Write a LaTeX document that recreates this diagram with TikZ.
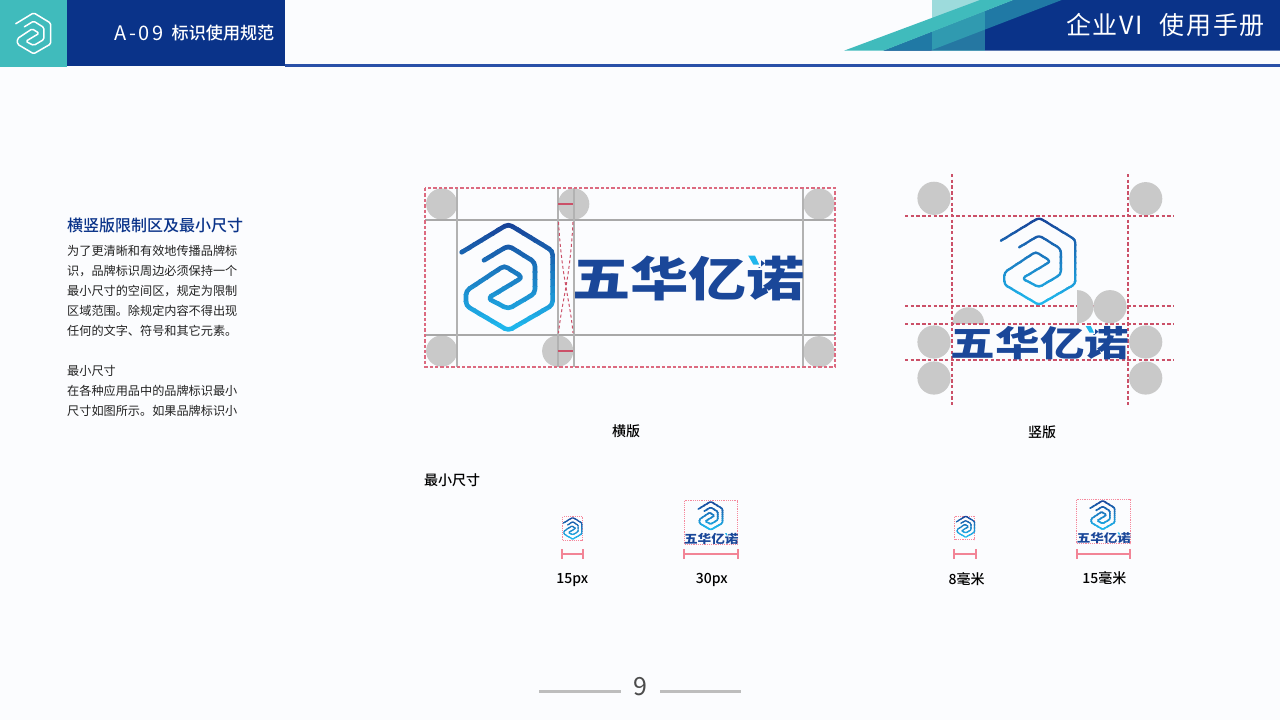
\documentclass[tikz,border=0pt]{standalone}
\usepackage{fontspec}
\setmainfont{Noto Sans CJK SC}
\newfontfamily\logofont{Noto Sans CJK SC}[UprightFont=* Black]
\newfontfamily\medfont{Noto Sans CJK SC}[UprightFont=* Medium]
\newfontfamily\spacedfont{Noto Sans CJK SC}[LetterSpace=7]
\newfontfamily\widefont{Noto Sans CJK SC}[LetterSpace=14]
\definecolor{pagebg}{HTML}{FBFCFE}
\definecolor{navy}{HTML}{0A3389}
\definecolor{rulebl}{HTML}{2A50A8}
\definecolor{teal}{HTML}{40BBBC}
\definecolor{deepteal}{HTML}{2079A5}
\definecolor{logotop}{HTML}{174298}
\definecolor{logobot}{HTML}{1FB6EC}
\definecolor{logoword}{HTML}{1A4799}
\definecolor{zoneg}{HTML}{C9C9C9}
\definecolor{lineg}{HTML}{A8A8A8}
\definecolor{lineh}{HTML}{B2B2B2}
\definecolor{pageline}{HTML}{BDBDBD}
\definecolor{dashr}{HTML}{DC6A80}
\definecolor{barred}{HTML}{CB5068}
\definecolor{dimred}{HTML}{F28496}
\definecolor{boxred}{HTML}{F6889C}
\definecolor{bodyt}{HTML}{222222}
\newcommand\hexpath{(-140,-75) -- (0,-160) -- (133,-79) -- (133,83) -- (0,160) -- (-127,85) -- (-127,41) -- (-12,-35) -- (43,0) -- (-62,63) -- (0,95) -- (80,48) -- (80,-45) -- (0,-95) -- (-73,-51)}
% x, y, scale, line width
\newcommand\logomark[4]{%
  \begin{scope}[shift={(#1,#2)},x=#3pt,y=-#3pt]
    \foreach \i in {0,...,15}{%
      \pgfmathsetmacro\p{max(0,100-\i*100/14)}%
      \colorlet{bandc}{logotop!\p!logobot}%
      \begin{scope}
        \clip (-200,{-170+\i*22}) rectangle (200,{-170+(\i+1)*22+1});
        \draw[color=bandc,line width=#4pt,line join=round,line cap=round,rounded corners=12*#3pt] \hexpath;
      \end{scope}
    }%
  \end{scope}}
% left, top, width, height, name
\newcommand\logoword[5]{%
  \node[inner sep=0pt,anchor=north west,text=logoword] (#5) at (#1,#2) {\resizebox*{#3pt}{#4pt}{\logofont 五华亿诺}};
  \fill[pagebg] ({#1+0.745*#3},{#2-0.03*#4}) rectangle ({#1+0.81*#3},{#2+0.245*#4});
  \fill[logobot] ({#1+0.756*#3},{#2}) -- ({#1+0.785*#3},{#2}) -- ({#1+0.803*#3},{#2+0.2*#4}) -- ({#1+0.778*#3},{#2+0.2*#4}) -- cycle;}
\newcommand\dimbar[3]{%
  \draw[dimline] (#1,#3) -- (#2,#3);
  \draw[dimline] (#1,{#3-5}) -- (#1,{#3+5});
  \draw[dimline] (#2,{#3-5}) -- (#2,{#3+5});}
\tikzset{
  zone/.style={fill=zoneg,draw=none},
  guide/.style={draw=lineg,line width=2pt},
  guidev/.style={draw=lineh,line width=2pt},
  dashg/.style={draw=dashr,line width=2pt,dash pattern=on 3.4pt off 2pt},
  dashv/.style={draw=barred,line width=2pt,dash pattern=on 3.4pt off 2.3pt},
  crossg/.style={draw=barred,line width=1pt,dash pattern=on 3pt off 2.5pt},
  dimbox/.style={draw=boxred,line width=1pt,dash pattern=on 1.2pt off 1pt},
  dimline/.style={draw=dimred,line width=2pt},
  small/.style={font=\medfont\fontsize{14}{16}\selectfont,text=black,inner sep=0pt},
  bodyline/.style={anchor=west,inner sep=0pt,text=bodyt,font=\fontsize{12.15}{14}\selectfont}
}
\begin{document}
\begin{tikzpicture}[x=1pt,y=-1pt]
\useasboundingbox (0,0) rectangle (1280,720);
\fill[pagebg] (0,0) rectangle (1280,720);
% header left
\fill[rulebl] (285,64) rectangle (1280,67);
\fill[teal] (0,0) rectangle (67,67);
\fill[navy] (67,0) rectangle (285,66);
\begin{scope}[shift={(33.7,33.3)},x=0.128pt,y=-0.128pt]
  \draw[white,line width=1.5pt,line join=round,line cap=round,rounded corners=1.5pt] \hexpath;
\end{scope}
\node[anchor=west,inner sep=0pt,text=white,font=\widefont\fontsize{20}{22}\selectfont] (code) at (114,33) {A-09};
\node[anchor=west,inner sep=0pt,text=white,font=\medfont\fontsize{17.1}{20}\selectfont] (hdr) at (171.5,33) {标识使用规范};
% header right
\fill[navy] (883.3,50.7) -- (1013.3,0) -- (1280,0) -- (1280,50.7) -- cycle;
\fill[deepteal] (883.3,50.7) -- (1013.3,0) -- (1061.7,0) -- (930,50.7) -- cycle;
\fill[teal] (844,50.7) -- (980,0) -- (1013.3,0) -- (883.3,50.7) -- cycle;
\fill[teal,opacity=0.5] (931.7,0) rectangle (985,50.7);
\node[anchor=west,inner sep=0pt,text=white,font=\spacedfont\fontsize{25}{28}\selectfont] (title) at (1066,25) {企业VI\hspace{9pt} 使用手册};
% left column
\node[anchor=west,inner sep=0pt,text=navy,font=\medfont\fontsize{16}{18}\selectfont] (h1) at (67,225) {横竖版限制区及最小尺寸};
\node[bodyline] (b1) at (67,250.7) {为了更清晰和有效地传播品牌标};
\node[bodyline] (b2) at (67,270.7) {识，品牌标识周边必须保持一个};
\node[bodyline] (b3) at (67,290.7) {最小尺寸的空间区，规定为限制};
\node[bodyline] (b4) at (67,310.7) {区域范围。除规定内容不得出现};
\node[bodyline] (b5) at (67,330.7) {任何的文字、符号和其它元素。};
\node[bodyline] (b6) at (67,370.7) {最小尺寸};
\node[bodyline] (b7) at (67,390.7) {在各种应用品中的品牌标识最小};
\node[bodyline] (b8) at (67,410.7) {尺寸如图所示。如果品牌标识小};
% horizontal lockup
\foreach \cx/\cy in {441.7/204,573.7/204,441.7/351,557.7/351,819/204,819/351.7}
  \fill[zone] (\cx,\cy) circle (15.6);
\draw[guide] (425,220) -- (835,220);
\draw[guide] (425,335) -- (835,335);
\draw[guidev] (457,188) -- (457,367);
\draw[guidev] (558,188) -- (558,367);
\draw[guidev] (574,188) -- (574,367);
\draw[guidev] (803,188) -- (803,367);
\draw[dashg] (425,188) rectangle (835,367);
\draw[crossg] (558.5,222) .. controls (562,280) and (570,300) .. (573,333);
\draw[crossg] (573,222) .. controls (570,280) and (562,300) .. (558.5,333);
\draw[barred,line width=2pt] (558,204) -- (573,204);
\draw[barred,line width=2pt] (558,351) -- (573,351);
\logomark{508.3}{277.3}{0.3333}{4.6}
\logoword{572}{255.5}{233}{45}{wordh}
% vertical lockup
\foreach \cx/\cy in {934/198.3,1145.7/198.7,934/342,1145.7/342,934/378,1145.7/378}
  \fill[zone] (\cx,\cy) circle (16.6);
\begin{scope}
  \clip (940,300) rectangle (1000,323.3);
  \fill[zone] (968.3,323.3) circle (16);
\end{scope}
\draw[dashv] (952,174) -- (952,405);
\draw[dashv] (1128,174) -- (1128,405);
\draw[dashv] (905,216) -- (1174,216);
\draw[dashv] (905,306) -- (1174,306);
\draw[dashv] (905,324) -- (1174,324);
\draw[dashv] (905,360) -- (1174,360);
\begin{scope}
  \clip (1077,285) rectangle (1100,323.3);
  \fill[zone] (1077,306.7) circle (16.6);
\end{scope}
\fill[zone] (1110,306.7) circle (16.6);
\logomark{1039}{261.3}{0.273}{2.3}
\logoword{950.7}{326}{178.5}{33.5}{wordv}
\node[small] (lh) at (626,431.5) {横版};
\node[small] (lv) at (1042,432.5) {竖版};
\node[small,anchor=west] (lm) at (424,480.5) {最小尺寸};
% minimum sizes
\draw[dimbox] (562.5,516.5) rectangle (582.5,540.5);
\logomark{572.7}{528.3}{0.068}{1.2}
\dimbar{562}{583}{554}
\node[small] (s1) at (572.3,580) {15px};
\draw[dimbox] (684.5,500.5) rectangle (737.5,544.5);
\logomark{710.7}{515.7}{0.0885}{1.6}
\logoword{683.8}{533}{54.5}{11.3}{word1}
\dimbar{684}{738}{554}
\node[small] (s2) at (711.7,579.5) {30px};
\draw[dimbox] (954.5,516.5) rectangle (974.5,539.5);
\logomark{965.7}{526.7}{0.066}{1.2}
\dimbar{954}{976}{554}
\node[small] (s3) at (966.7,579) {8毫米};
\draw[dimbox] (1076.5,499.5) rectangle (1130.5,543.5);
\logomark{1102.7}{515}{0.09}{1.6}
\logoword{1076.6}{532.4}{54.2}{11}{word2}
\dimbar{1077}{1130}{554}
\node[small] (s4) at (1104.3,578.3) {15毫米};
% page number
\draw[pageline,line width=3pt] (539,691.5) -- (621,691.5);
\draw[pageline,line width=3pt] (660,691.5) -- (741,691.5);
\node[inner sep=0pt,text=black!70,font=\fontsize{25}{28}\selectfont] (pg) at (640,687) {9};
\end{tikzpicture}
\end{document}
